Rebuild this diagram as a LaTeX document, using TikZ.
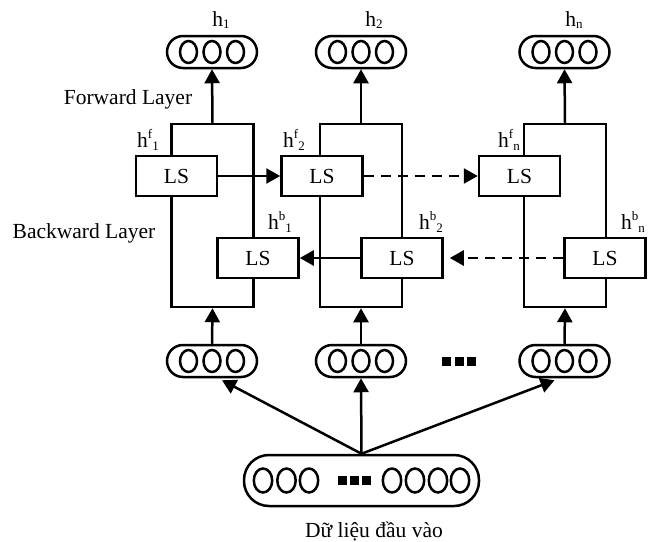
\documentclass[tikz,border=0pt]{standalone}
\usepackage{fontspec}
\setmainfont{Liberation Serif}
\usetikzlibrary{arrows.meta,calc}
\newcommand\hsubx[1]{h\raisebox{-0.12em}{\fontsize{13}{13}\selectfont #1}}
\newcommand\hsupsub[2]{h\raisebox{0.42em}{\fontsize{13}{13}\selectfont #1}\raisebox{-0.15em}{\fontsize{13}{13}\selectfont #2}}
\tikzset{
  lw/.style={line width=2.5pt},
  pill/.style={draw, lw, rounded corners=16pt, minimum width=90pt, minimum height=32pt, inner sep=0pt},
  bigpill/.style={draw, lw, rounded corners=25pt, minimum width=235pt, minimum height=51pt, inner sep=0pt},
  lsbox/.style={draw, fill=white, lw, minimum width=81pt, minimum height=40pt, inner sep=0pt, font=\fontsize{21.5}{24}\selectfont},
  frame/.style={draw, lw, minimum width=82pt, minimum height=183pt, inner sep=0pt},
  arr/.style={lw, -{Triangle[length=14pt,width=15pt]}},
  darr/.style={arr, dash pattern=on 10pt off 7pt},
  lbl/.style={font=\fontsize{21.5}{24}\selectfont, inner sep=0pt},
  dotsq/.style={fill=black, minimum size=9pt, inner sep=0pt},
  unit/.style={lw}
}
\begin{document}
\begin{tikzpicture}[x=1pt,y=-1pt]
\useasboundingbox (0,0) rectangle (648,541);
% frames
\node[frame] (fr1) at (212.5,215.5) {};
\node[frame] (fr2) at (361,215.5) {};
\node[frame] (frn) at (565,215.5) {};
% output pills
\node[pill] (o1) at (212,52) {};
\node[pill] (o2) at (361,52) {};
\node[pill] (on) at (564.5,52) {};
% input pills
\node[pill] (i1) at (212,361) {};
\node[pill] (i2) at (361,361) {};
\node[pill] (in) at (564.5,361) {};
\foreach \p in {o1,o2,on,i1,i2,in}{
  \foreach \dx in {-23.5,0,23.5}
    \draw[unit] ($(\p)+(\dx,0)$) ellipse [x radius=8.5pt, y radius=11pt];
}
% big input pill
\node[bigpill] (big) at (361.5,480.5) {};
\foreach \xx in {263,286.5,309,392,415,438,460}
  \draw[unit] (\xx,480.5) ellipse [x radius=9.2pt, y radius=12pt];
\node[dotsq] (bd1) at (342,480.5) {};
\node[dotsq] (bd2) at (354,480.5) {};
\node[dotsq] (bd3) at (366,480.5) {};
% dots between input pills
\node[dotsq] (d1) at (446.5,361.5) {};
\node[dotsq] (d2) at (459,361.5) {};
\node[dotsq] (d3) at (471.5,361.5) {};
% LS boxes
\node[lsbox] (f1) at (176.5,176) {\raisebox{-5pt}{LS}};
\node[lsbox] (f2) at (322,176) {\raisebox{-5pt}{LS}};
\node[lsbox] (fn) at (519.5,176) {\raisebox{-5pt}{LS}};
\node[lsbox] (b1) at (258,258) {\raisebox{-5pt}{LS}};
\node[lsbox] (b2) at (402,258) {\raisebox{-5pt}{LS}};
\node[lsbox] (bn) at (605,258) {\raisebox{-5pt}{LS}};
% arrows between layers
\draw[arr] (f1.east) -- (f2.west);
\draw[darr] (f2.east) -- (fn.west);
\draw[arr] (b2.west) -- (b1.east);
\draw[darr, shorten >=6pt] (bn.west) -- (b2.east);
% frame to output, input to frame
\foreach \a/\b in {fr1/o1,fr2/o2,frn/on}
  \draw[arr] (\a.north) -- (\b.south);
\foreach \a/\b in {i1/fr1,i2/fr2,in/frn}
  \draw[arr] (\a.north) -- (\b.south);
% from big pill
\draw[arr] (big.north) -- ($(i1.south)+(10,2)$);
\draw[arr] (big.north) -- (i2.south);
\draw[arr] (big.north) -- ($(in.south)+(-10,2)$);
% labels
\node[lbl] (lh1) at (221,20) {\hsubx{1}};
\node[lbl] (lh2) at (374,20) {\hsubx{2}};
\node[lbl] (lhn) at (574,20) {\hsubx{n}};
\node[lbl] (lf1) at (148,140) {\hsupsub{f}{1}};
\node[lbl] (lf2) at (294,140) {\hsupsub{f}{2}};
\node[lbl] (lfn) at (509,140) {\hsupsub{f}{n}};
\node[lbl] (lb1) at (280,222) {\hsupsub{b}{1}};
\node[lbl] (lb2) at (431,222) {\hsupsub{b}{2}};
\node[lbl] (lbn) at (633,222) {\hsupsub{b}{n}};
\node[lbl] (fl) at (128,99) {Forward Layer};
\node[lbl] (bl) at (84,233) {Backward Layer};
\node[lbl] (dl) at (374,531) {Dữ liệu đầu vào};
\end{tikzpicture}
\end{document}
